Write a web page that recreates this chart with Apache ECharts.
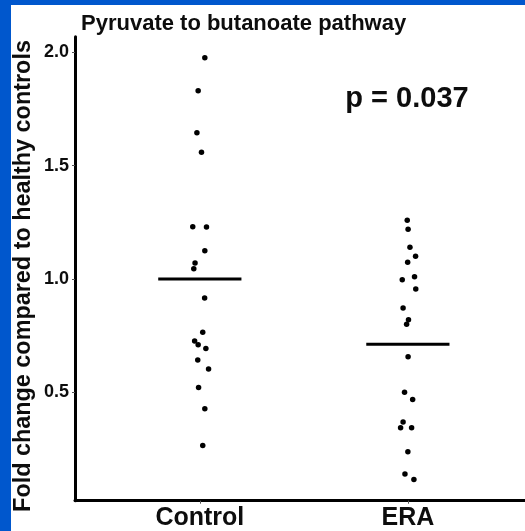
<!DOCTYPE html>
<html>
<head>
<meta charset="utf-8">
<script src="https://cdn.jsdelivr.net/npm/echarts@6/dist/echarts.min.js"></script>
<style>
  html, body { margin: 0; padding: 0; background: #ffffff; }
  #chart { width: 525px; height: 531px; }
</style>
</head>
<body>
<div id="chart"></div>
<script>
// Groups and their position on the x axis
const groups = ['Control', 'ERA'];
const groupPos = [1, 2];

// Fold change per sample
const controlValues = [1.976, 1.831, 1.645, 1.559, 1.231, 1.229, 1.125, 1.071, 1.045,
  0.916, 0.765, 0.727, 0.710, 0.694, 0.643, 0.603, 0.521, 0.428, 0.266];
const eraValues = [1.259, 1.219, 1.140, 1.100, 1.074, 0.997, 1.010, 0.956, 0.872,
  0.820, 0.800, 0.657, 0.500, 0.469, 0.369, 0.344, 0.344, 0.238, 0.140, 0.115];

// Horizontal jitter of each sample around its group
const controlJitter = [0.024, -0.008, -0.014, 0.008, -0.034, 0.032, 0.024, -0.023, -0.029,
  0.023, 0.014, -0.025, -0.008, 0.029, -0.010, 0.042, -0.006, 0.024, 0.014];
const eraJitter = [-0.003, 0.001, 0.010, 0.037, -0.001, -0.027, 0.032, 0.038, -0.023,
  0.003, -0.006, 0.001, -0.016, 0.023, -0.023, -0.035, 0.018, 0, -0.014, 0.029];

// Group means shown as horizontal bars
const groupMeans = [1.0, 0.712];

const yTicks = [0.5, 1.0, 1.5, 2.0];
const titleText = 'Pyruvate to butanoate pathway';
const yTitle = 'Fold change compared to healthy controls';
const pText = 'p = 0.037';

const FONT = '"Liberation Sans", Arial, sans-serif';

function points(values, jitter, pos) {
  return values.map((v, i) => [pos + jitter[i], v]);
}

const chart = echarts.init(document.getElementById('chart'), null, { renderer: 'canvas' });

chart.setOption({
  animation: false,
  backgroundColor: '#ffffff',
  title: {
    text: titleText,
    left: 76,
    top: 8,
    textStyle: { fontFamily: FONT, fontWeight: 'bold', fontSize: 22, color: '#0d0d0d' }
  },
  grid: { left: 75, right: 0, top: 36.7, bottom: 30.3, containLabel: false },
  xAxis: {
    type: 'value',
    min: 0.4,
    max: 2.563,
    splitLine: { show: false },
    axisLine: { show: true, lineStyle: { color: '#000', width: 3 } },
    axisTick: { show: true, length: 3, customValues: groupPos, lineStyle: { color: '#555', width: 1 } },
    axisLabel: {
      customValues: groupPos,
      formatter: v => groups[groupPos.indexOf(Math.round(v))] || '',
      fontFamily: FONT, fontWeight: 'bold', fontSize: 25, color: '#0d0d0d', margin: 5
    }
  },
  yAxis: {
    type: 'value',
    min: 0.022,
    max: 2.069,
    splitLine: { show: false },
    axisLine: { show: true, lineStyle: { color: '#000', width: 3 } },
    axisTick: { show: true, length: 3, customValues: yTicks, lineStyle: { color: '#555', width: 1 } },
    axisLabel: {
      customValues: yTicks,
      formatter: v => v.toFixed(1),
      fontFamily: FONT, fontWeight: 'bold', fontSize: 18, color: '#0d0d0d', margin: 6
    }
  },
  graphic: [
    { type: 'rect', left: 0, top: 0, shape: { width: 11, height: 531 }, style: { fill: '#0057cd' }, z: 100 },
    { type: 'rect', left: 0, top: 0, shape: { width: 525, height: 5 }, style: { fill: '#0057cd' }, z: 100 },
    {
      type: 'text', x: 24, y: 276, rotation: Math.PI / 2,
      style: {
        text: yTitle, font: 'bold 23.4px ' + FONT, fill: '#0d0d0d',
        textAlign: 'center', textVerticalAlign: 'middle'
      }
    },
    {
      type: 'text', x: 407, y: 99,
      style: {
        text: pText, font: 'bold 29px ' + FONT, fill: '#0d0d0d',
        textAlign: 'center', textVerticalAlign: 'middle'
      }
    }
  ],
  series: [
    {
      type: 'scatter', name: groups[0], symbolSize: 5.5,
      itemStyle: { color: '#000', opacity: 1 },
      data: points(controlValues, controlJitter, groupPos[0])
    },
    {
      type: 'scatter', name: groups[1], symbolSize: 5.5,
      itemStyle: { color: '#000', opacity: 1 },
      data: points(eraValues, eraJitter, groupPos[1])
    },
    {
      type: 'custom',
      data: groupMeans.map((m, i) => [groupPos[i], m]),
      renderItem: (params, api) => {
        const a = api.coord([api.value(0) - 0.2, api.value(1)]);
        const b = api.coord([api.value(0) + 0.2, api.value(1)]);
        return {
          type: 'line',
          shape: { x1: a[0], y1: a[1], x2: b[0], y2: b[1] },
          style: { stroke: '#000', lineWidth: 3 }
        };
      }
    }
  ]
});
</script>
</body>
</html>
